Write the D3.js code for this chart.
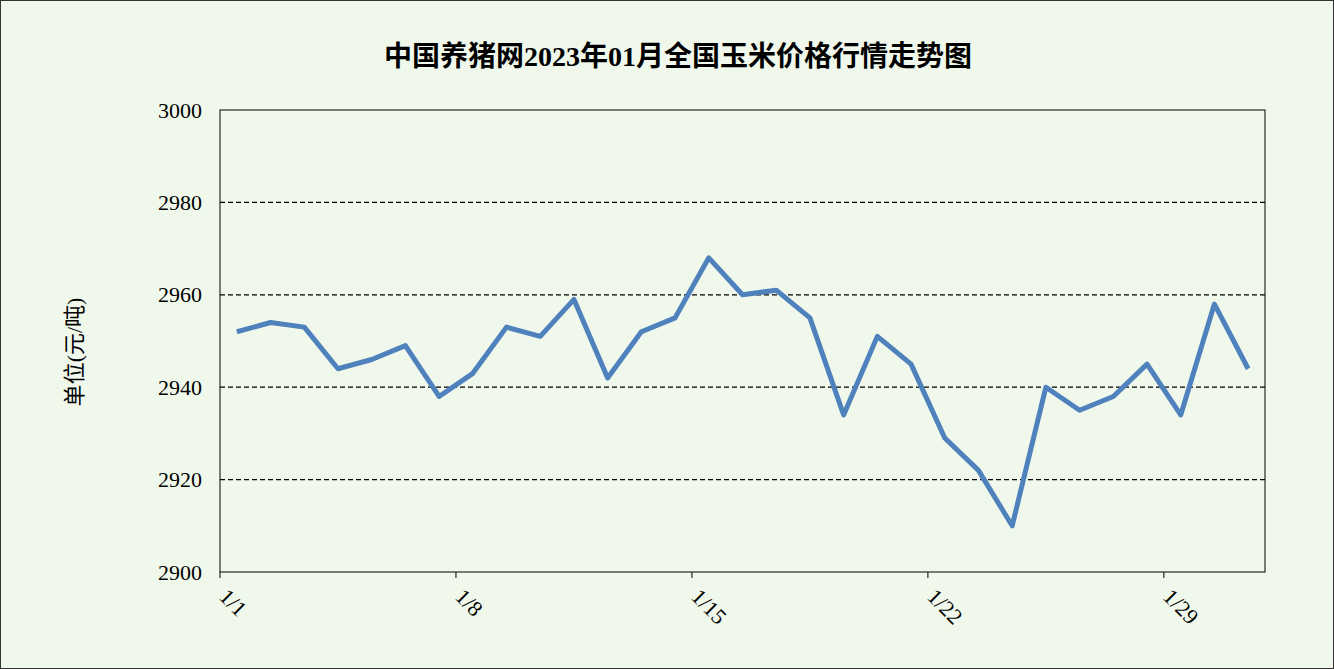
<!DOCTYPE html>
<html><head><meta charset="utf-8">
<script src="https://cdn.jsdelivr.net/npm/d3@7/dist/d3.min.js"></script>
<style>body{margin:0;background:#fff}</style></head>
<body><svg id="c" width="1334" height="669"></svg>
<script>
const dates = d3.range(1,32).map(d=>"1/"+d);
const prices = [2952,2954,2953,2944,2946,2949,2938,2943,2953,2951,2959,2942,2952,2955,2968,2960,2961,2955,2934,2951,2945,2929,2922,2910,2940,2935,2938,2945,2934,2958,2944];
const yTicks = [2900,2920,2940,2960,2980,3000];

const svg = d3.select("#c");
const font = "'Liberation Serif','Noto Sans CJK SC',serif";
svg.append("rect").attr("x",0.5).attr("y",0.5).attr("width",1333).attr("height",668)
  .attr("fill","#F0F8EC").attr("stroke","#333");
const m={l:220,r:1265,t:110,b:572};
const x = d3.scaleBand().domain(dates).range([m.l,m.r]);
const y = d3.scaleLinear().domain([2900,3000]).range([m.b,m.t]);

svg.append("text").attr("x",678).attr("y",66).attr("text-anchor","middle")
  .attr("font-family",font).attr("font-size",28).attr("font-weight","bold").attr("fill","#000")
  .text("中国养猪网2023年01月全国玉米价格行情走势图");

svg.append("g").selectAll("line").data(yTicks.filter(v=>v>2900&&v<3000)).join("line")
  .attr("x1",m.l).attr("x2",m.r).attr("y1",d=>y(d)).attr("y2",d=>y(d))
  .attr("stroke","#000").attr("stroke-dasharray","5,3").attr("stroke-width",1.2);
svg.append("rect").attr("x",m.l).attr("y",m.t).attr("width",m.r-m.l).attr("height",m.b-m.t)
  .attr("fill","none").attr("stroke","#000").attr("stroke-width",1);

const ya = svg.append("g").attr("transform",`translate(${m.l},0)`)
  .call(d3.axisLeft(y).tickValues(yTicks).tickFormat(d3.format("d")).tickSize(0).tickPadding(18));
ya.select(".domain").remove();
ya.selectAll("text").attr("font-family",font).attr("font-size",22).attr("fill","#000");

const tickIdx=[0,7,14,21,28];
const xg = svg.append("g");
xg.selectAll("line").data(tickIdx).join("line")
  .attr("x1",i=>x(dates[i])).attr("x2",i=>x(dates[i])).attr("y1",m.b).attr("y2",m.b+6).attr("stroke","#000");
xg.selectAll("text").data(tickIdx).join("text")
  .attr("transform",i=>`translate(${x(dates[i])-2},${m.b+26}) rotate(45)`)
  .attr("font-family",font).attr("font-size",22).attr("fill","#000").text(i=>dates[i]);

svg.append("text").attr("transform","translate(82,352) rotate(-90)").attr("text-anchor","middle")
  .attr("font-family",font).attr("font-size",22).attr("fill","#000").text("单位(元/吨)");

svg.append("path").datum(prices).attr("fill","none").attr("stroke","#4F81BD").attr("stroke-width",5)
  .attr("stroke-linejoin","round")
  .attr("d",d3.line().x((d,i)=>x(dates[i])+x.bandwidth()/2).y(d=>y(d)));
</script></body></html>
